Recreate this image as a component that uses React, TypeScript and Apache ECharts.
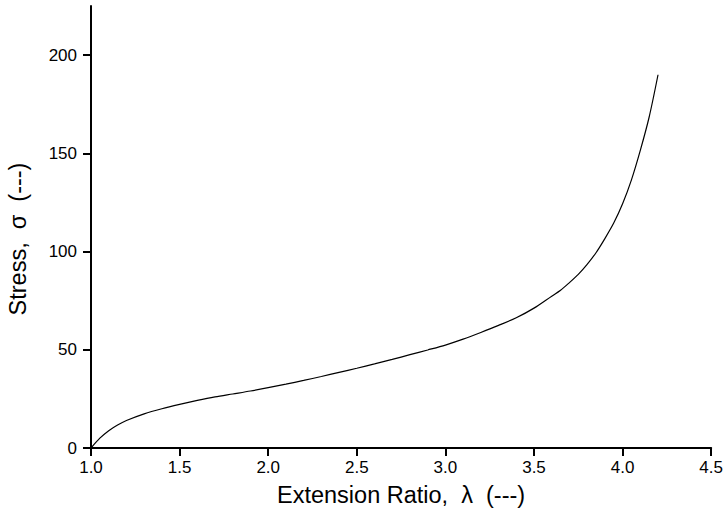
import React, { useEffect, useRef } from "react";
import * as echarts from "echarts";

// Extension ratio (lambda) and the corresponding stress
const lambda = [
  1.0, 1.05, 1.1, 1.15, 1.2, 1.3, 1.4, 1.5, 1.6, 1.7, 1.8, 1.9, 2.0, 2.1, 2.2,
  2.3, 2.4, 2.5, 2.6, 2.7, 2.8, 2.9, 3.0, 3.1, 3.2, 3.3, 3.4, 3.5, 3.6, 3.65,
  3.7, 3.75, 3.8, 3.85, 3.9, 3.95, 4.0, 4.05, 4.1, 4.15, 4.2,
];
const stress = [
  0, 5, 8.8, 11.7, 14, 17.4, 20, 22.2, 24.2, 26, 27.5, 29, 30.7, 32.5, 34.4,
  36.4, 38.5, 40.6, 42.8, 45.1, 47.5, 49.9, 52.4, 55.4, 58.8, 62.4, 66.3, 71.2,
  77.3, 80.3, 84.2, 88.4, 93.5, 99.4, 106.6, 114.5, 124.3, 136.5, 151.5, 168.5,
  190,
];

const X_TITLE = "Extension Ratio,  \u03bb  (---)";
const Y_TITLE = "Stress,  \u03c3  (---)";

const FONT = "'Liberation Sans', Arial, Helvetica, sans-serif";

export default function App() {
  const ref = useRef<HTMLDivElement>(null);

  useEffect(() => {
    if (!ref.current) return;
    const chart = echarts.init(ref.current, undefined, { renderer: "svg" });
    const axisLine = { show: true, lineStyle: { color: "#000", width: 2 } };
    const axisTick = { show: true, length: 8, lineStyle: { color: "#000", width: 2 } };
    chart.setOption({
      animation: false,
      backgroundColor: "#fff",
      grid: { left: 91, right: 14, top: 6, bottom: 73, containLabel: false },
      xAxis: {
        type: "value",
        min: 1.0,
        max: 4.5,
        interval: 0.5,
        name: X_TITLE,
        nameLocation: "middle",
        nameGap: 35,
        nameTextStyle: { fontFamily: FONT, fontSize: 23.5, color: "#000" },
        axisLine,
        axisTick,
        splitLine: { show: false },
        axisLabel: {
          fontFamily: FONT,
          fontSize: 17,
          color: "#000",
          margin: 11,
          formatter: (v: number) => v.toFixed(1),
        },
      },
      yAxis: {
        type: "value",
        min: 0,
        max: 225,
        interval: 50,
        axisLine,
        axisTick,
        splitLine: { show: false },
        axisLabel: {
          fontFamily: FONT,
          fontSize: 17,
          color: "#000",
          margin: 14,
          showMaxLabel: false,
          formatter: (v: number) => (v % 50 === 0 ? String(v) : ""),
        },
      },
      graphic: [
        {
          type: "text",
          x: 18,
          y: 239,
          rotation: Math.PI / 2,
          style: {
            text: Y_TITLE,
            fontFamily: FONT,
            fontSize: 23.5,
            fill: "#000",
            align: "center",
            verticalAlign: "middle",
          },
        },
      ],
      series: [
        {
          type: "line",
          data: lambda.map((x, i) => [x, stress[i]]),
          smooth: 0.3,
          showSymbol: false,
          lineStyle: { color: "#000", width: 1.2 },
        },
      ],
    });
    return () => chart.dispose();
  }, []);

  return (
    <div
      ref={ref}
      style={{ position: "fixed", left: 0, top: 0, width: 726, height: 521 }}
    />
  );
}
